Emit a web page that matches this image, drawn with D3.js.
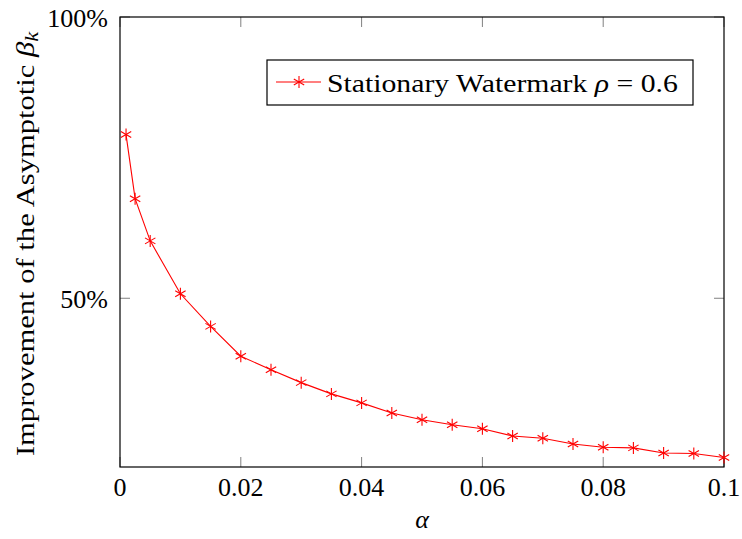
<!DOCTYPE html>
<html><head><meta charset="utf-8">
<script src="https://cdn.jsdelivr.net/npm/d3@7"></script>
<style>body{margin:0;background:#fff}svg{display:block}text{font-family:"Liberation Serif","DejaVu Serif",serif;fill:#000}</style>
</head><body>
<script>
const alphas = [0.001,0.0025,0.005,0.01,0.015,0.02,0.025,0.03,0.035,0.04,0.045,0.05,0.055,0.06,0.065,0.07,0.075,0.08,0.085,0.09,0.095,0.1];
const improvement = [79.1,67.7,60.2,50.8,45.0,39.7,37.3,35.0,33.0,31.4,29.6,28.4,27.5,26.8,25.5,25.1,24.1,23.5,23.4,22.5,22.4,21.7];
const xTicks = [0,0.02,0.04,0.06,0.08,0.1];
const xTickLabels = ["0","0.02","0.04","0.06","0.08","0.1"];
const yTicks = [50,100];
const yTickLabels = ["50%","100%"];
const seriesName = "Stationary Watermark";

const W=742,H=539;
const m={l:120,r:18,t:17,b:72};
const svg=d3.select("body").append("svg").attr("width",W).attr("height",H);
const x=d3.scaleLinear().domain([0,0.1]).range([m.l,W-m.r]);
const y=d3.scaleLinear().domain([20,100]).range([H-m.b,m.t]);
const fs=26;

// helper: stretch text horizontally to a target width
function fitWidth(textSel,target,anchorX){
  const w=textSel.node().getComputedTextLength();
  const s=target/w;
  return s;
}

const tl=10;
const g=svg.append("g");
xTicks.forEach(v=>{
  g.append("line").attr("x1",x(v)).attr("x2",x(v)).attr("y1",y(20)).attr("y2",y(20)-tl).attr("stroke","#808080").attr("stroke-width",1);
  g.append("line").attr("x1",x(v)).attr("x2",x(v)).attr("y1",y(100)).attr("y2",y(100)+tl).attr("stroke","#808080").attr("stroke-width",1);
});
yTicks.forEach(v=>{
  g.append("line").attr("x1",x(0)).attr("x2",x(0)+tl).attr("y1",y(v)).attr("y2",y(v)).attr("stroke","#808080").attr("stroke-width",1);
  g.append("line").attr("x1",x(0.1)).attr("x2",x(0.1)-tl).attr("y1",y(v)).attr("y2",y(v)).attr("stroke","#808080").attr("stroke-width",1);
});
svg.append("rect").attr("x",x(0)).attr("y",y(100)).attr("width",x(0.1)-x(0)).attr("height",y(20)-y(100)).attr("fill","none").attr("stroke","#000").attr("stroke-width",1.2);

xTicks.forEach((v,i)=>{
  svg.append("text").attr("x",x(v)).attr("y",y(20)+29).attr("text-anchor","middle").attr("font-size",fs).text(xTickLabels[i]);
});
yTicks.forEach((v,i)=>{
  svg.append("text").attr("x",x(0)-12).attr("y",y(v)+9.5).attr("text-anchor","end").attr("font-size",fs).text(yTickLabels[i]);
});

svg.append("text").attr("x",(x(0)+x(0.1))/2).attr("y",528).attr("text-anchor","middle").attr("font-size",fs).attr("font-style","italic").text("α");

// y label
const ylg=svg.append("g");
const yl=ylg.append("text").attr("x",0).attr("y",0).attr("text-anchor","middle").attr("font-size",fs);
yl.append("tspan").text("Improvement of the Asymptotic ");
yl.append("tspan").attr("font-style","italic").text("β");
yl.append("tspan").attr("font-style","italic").attr("font-size",19).attr("dy",4).text("k");
const ys=425/yl.node().getBBox().width;
ylg.attr("transform",`translate(34,${(y(20)+y(100))/2+2}) rotate(-90) scale(${ys},1)`);

// line
const data=alphas.map((a,i)=>[a,improvement[i]]);
svg.append("path").datum(data).attr("fill","none").attr("stroke","#ff0000").attr("stroke-width",1.1)
  .attr("d",d3.line().x(d=>x(d[0])).y(d=>y(d[1])));

function star(sel,cx,cy,r){
  const gg=sel.append("g").attr("transform",`translate(${cx},${cy})`);
  [90,30,150].forEach(a=>{
    const rad=a*Math.PI/180;
    gg.append("line").attr("x1",-r*Math.cos(rad)).attr("y1",-r*Math.sin(rad)).attr("x2",r*Math.cos(rad)).attr("y2",r*Math.sin(rad))
      .attr("stroke","#ff0000").attr("stroke-width",1.1);
  });
}
data.forEach(d=>star(svg,x(d[0]),y(d[1]),6));

// legend
const lg=svg.append("g");
lg.append("rect").attr("x",267).attr("y",60).attr("width",426).attr("height",45).attr("fill","#fff").attr("stroke","#000").attr("stroke-width",1.2);
lg.append("line").attr("x1",276).attr("x2",321).attr("y1",82).attr("y2",82).attr("stroke","#ff0000").attr("stroke-width",1.1);
star(lg,299,82,6);
const ltg=lg.append("g");
const lt=ltg.append("text").attr("x",0).attr("y",0).attr("font-size",fs);
lt.append("tspan").text(seriesName+" ");
lt.append("tspan").attr("font-style","italic").text("ρ");
lt.append("tspan").text(" = 0.6");
const ls=351/lt.node().getBBox().width;
ltg.attr("transform",`translate(327,91.5) scale(${ls},1)`);
</script>
</body></html>
